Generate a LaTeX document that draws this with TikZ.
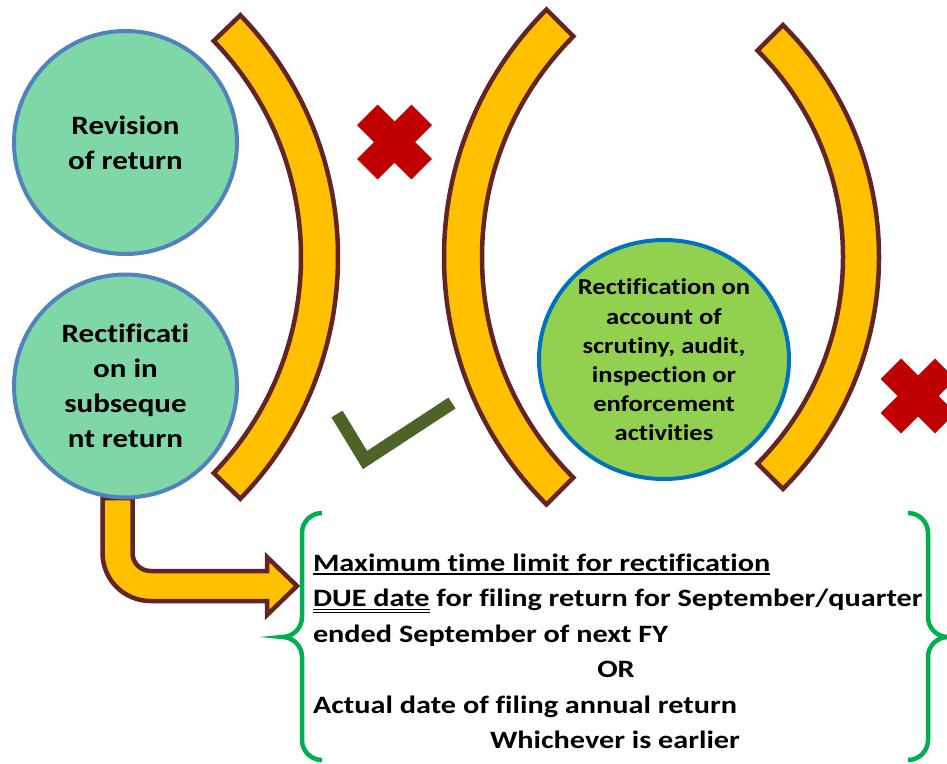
\documentclass[tikz,border=0pt]{standalone}
\usepackage{fontspec}
\setmainfont{Carlito}[FakeStretch=1.17,Ligatures={NoCommon,NoContextual}]
\newfontfamily\bottomfont{Carlito}[FakeStretch=1.21,Ligatures={NoCommon,NoContextual}]
\usetikzlibrary{calc}
\definecolor{byellow}{HTML}{FFC000}
\definecolor{bbrown}{HTML}{632523}
\definecolor{cgreen}{HTML}{7FD6A6}
\definecolor{cblue}{HTML}{5082BE}
\definecolor{rgreen}{HTML}{92D050}
\definecolor{rblue}{HTML}{0070C0}
\definecolor{xred}{HTML}{C00000}
\definecolor{ckgreen}{HTML}{4F6228}
\definecolor{brgreen}{HTML}{00B050}
\begin{document}
\begin{tikzpicture}[x=1pt,y=-1pt,
  bracketband/.style={fill=byellow,draw=bbrown,line width=4.5pt,line join=miter},
  arrowshape/.style={fill=byellow,draw=bbrown,line width=4.5pt,line join=miter},
  lcirc/.style={circle,draw=cblue,fill=cgreen,line width=4pt,minimum size=223pt,inner sep=0pt,align=center,font=\fontsize{26.5}{35}\selectfont\bfseries},
  rcircshape/.style={draw=rblue,fill=rgreen,line width=4pt},
  rtext/.style={inner sep=0pt,align=center,font=\fontsize{22.7}{29.2}\selectfont\bfseries},
  btext/.style={inner sep=0pt,outer sep=0pt,font=\bottomfont\fontsize{25}{35.5}\selectfont\bfseries},
  bracegreen/.style={draw=brgreen,line width=4.5pt},
  checkline/.style={draw=ckgreen,line width=13pt,line join=miter},
  ulthick/.style={draw=black,line width=2pt},
  ulthin/.style={draw=black,line width=1pt},
  redcross/.pic={\fill[xred] (38.5,14.5) -- (14.5,14.5) -- (14.5,38.5) -- (-14.5,38.5) -- (-14.5,14.5) -- (-38.5,14.5) -- (-38.5,-14.5) -- (-14.5,-14.5) -- (-14.5,-38.5) -- (14.5,-38.5) -- (14.5,-14.5) -- (38.5,-14.5) -- cycle;}
]
\useasboundingbox (0,0) rectangle (947,763);
% brackets
\coordinate (c1) at (-10,257);
\coordinate (c2) at (794,257);
\coordinate (c3) at (551,257);
\draw[bracketband] ($(c1)+(-44:348)$) arc[start angle=-44,end angle=44,radius=348] -- ($(c1)+(44:311)$) arc[start angle=44,end angle=-44,radius=311] -- cycle;
\draw[bracketband] ($(c2)+(135:350)$) arc[start angle=135,end angle=225,radius=350] -- ($(c2)+(225:312)$) arc[start angle=225,end angle=135,radius=312] -- cycle;
\draw[bracketband] ($(c3)+(-45:328)$) arc[start angle=-45,end angle=45,radius=328] -- ($(c3)+(45:292)$) arc[start angle=45,end angle=-45,radius=292] -- cycle;
% crosses
\pic[rotate=45] (crossA) at (394.5,142) {redcross};
\pic[rotate=45] (crossB) at (918,396) {redcross};
% check mark
\coordinate (k1) at (337,414);
\coordinate (k2) at (365,460);
\coordinate (k3) at (452,403);
\draw[checkline] (k1) -- (k2) -- (k3);
% bent arrow
\draw[arrowshape] (102.5,498) -- (102.5,553) arc[start angle=180,end angle=90,radius=48] -- (267,601) -- (267,615) -- (297,586) -- (267,557) -- (267,571) -- (150.5,571) arc[start angle=90,end angle=180,radius=18] -- (132.5,498) -- cycle;
% circles
\node[lcirc] (rev) at (125.5,142.5) {Revision\\of return};
\node[lcirc] (sub) at (125.5,386) {Rectificati\\on in\\subseque\\nt return};
\path[rcircshape] (664,359.5) ellipse[x radius=125,y radius=119.5];
\node[rtext] (scr) at (664,360) {Rectification on\\account of\\scrutiny, audit,\\inspection or\\enforcement\\activities};
% bottom text
\node[btext,anchor=base west] (l1) at (313,571) {Maximum time limit for rectification};
\draw[ulthick] ([yshift=-2.5pt]l1.base west) -- ([yshift=-2.5pt]l1.base east);
\node[btext,anchor=base west] (l2a) at (313,606.5) {DUE date};
\draw[ulthin] ([yshift=-2.5pt]l2a.base west) -- ([yshift=-2.5pt]l2a.base east);
\draw[ulthin] ([yshift=-5.5pt]l2a.base west) -- ([yshift=-5.5pt]l2a.base east);
\node[btext,anchor=base west] (l2b) at ([xshift=6.8pt]l2a.base east) {for filing return for September/quarter};
\node[btext,anchor=base west] (l3) at (313,642) {ended September of next FY};
\node[btext,anchor=base] (l4) at (616,677.5) {OR};
\node[btext,anchor=base west] (l5) at (313,713) {Actual date of filing annual return};
\node[btext,anchor=base] (l6) at (615,748.5) {Whichever is earlier};
% braces
\draw[bracegreen] (322,513) arc[start angle=270,end angle=180,radius=20] -- (302,617) arc[start angle=0,end angle=90,radius=20] arc[start angle=270,end angle=360,radius=20] -- (302,740) arc[start angle=180,end angle=90,radius=20];
\draw[bracegreen] (908,513) arc[start angle=270,end angle=360,radius=20] -- (928,617) arc[start angle=180,end angle=90,radius=20] arc[start angle=270,end angle=180,radius=20] -- (928,740) arc[start angle=0,end angle=90,radius=20];
\end{tikzpicture}
\end{document}
